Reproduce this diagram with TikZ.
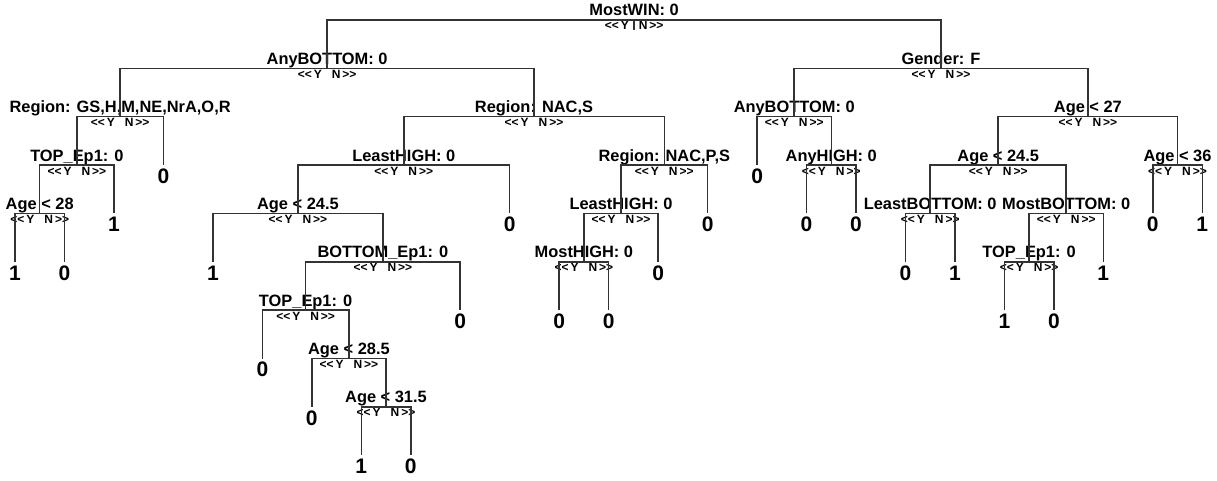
\documentclass[tikz,border=0pt]{standalone}
\usepackage{fontspec}
\setmainfont{Liberation Sans}
\newcommand{\yesno}{<{}<\hspace{1pt}Y\hspace{5pt}N\hspace{1pt}>{}>}

\begin{document}
\begin{tikzpicture}[x=0.5pt, y=-0.5pt,
    split/.style={anchor=base, inner sep=0pt, yshift=2pt, font=\bfseries\fontsize{8.2}{9}\selectfont},
    yn/.style={anchor=base, inner sep=0pt, yshift=-5pt, font=\bfseries\fontsize{6}{7}\selectfont},
    leaf/.style={anchor=base, inner sep=0pt, yshift=-9.15pt, font=\bfseries\fontsize{10.5}{12}\selectfont},
    branch/.style={draw=black!80, line width=0.75pt}]
    \useasboundingbox (0, 0) rectangle (1217, 481);

    % Root
    \path (634.1, 20) coordinate (mostwin) node [split] {MostWIN: 0} node [yn] {\yesno};

    % Level 1
    \path (327.1, 68.4) coordinate (anybottom) node [split] {AnyBOTTOM: 0} node [yn] {\yesno};
    \path (941.0, 68.4) coordinate (gender) node [split] {Gender: F} node [yn] {\yesno};

    % Level 2
    \path (120.1, 116.7) coordinate (regiona) node [split] {Region: GS,H,M,NE,NrA,O,R} node [yn] {\yesno};
    \path (534.0, 116.7) coordinate (regionb) node [split] {Region: NAC,S} node [yn] {\yesno};
    \path (794.2, 116.7) coordinate (anybottomr) node [split] {AnyBOTTOM: 0} node [yn] {\yesno};
    \path (1087.9, 116.7) coordinate (agea) node [split] {Age < 27} node [yn] {\yesno};

    % Level 3
    \path (76.9, 165.1) coordinate (topa) node [split] {TOP\_Ep1: 0} node [yn] {\yesno};
    \path (403.8, 165.1) coordinate (leasthigha) node [split] {LeastHIGH: 0} node [yn] {\yesno};
    \path (664.3, 165.1) coordinate (regionc) node [split] {Region: NAC,P,S} node [yn] {\yesno};
    \path (831.3, 165.1) coordinate (anyhigh) node [split] {AnyHIGH: 0} node [yn] {\yesno};
    \path (998.2, 165.1) coordinate (ageb) node [split] {Age < 24.5} node [yn] {\yesno};
    \path (1177.5, 165.1) coordinate (agec) node [split] {Age < 36} node [yn] {\yesno};

    % Level 4
    \path (39.7, 213.4) coordinate (aged) node [split] {Age < 28} node [yn] {\yesno};
    \path (297.9, 213.4) coordinate (agee) node [split] {Age < 24.5} node [yn] {\yesno};
    \path (621.0, 213.4) coordinate (leasthighb) node [split] {LeastHIGH: 0} node [yn] {\yesno};
    \path (930.2, 213.4) coordinate (leastbottom) node [split] {LeastBOTTOM: 0} node [yn] {\yesno};
    \path (1066.2, 213.4) coordinate (mostbottom) node [split] {MostBOTTOM: 0} node [yn] {\yesno};

    % Level 5 and below
    \path (382.9, 261.8) coordinate (bottomep) node [split] {BOTTOM\_Ep1: 0} node [yn] {\yesno};
    \path (583.9, 261.8) coordinate (mosthigh) node [split] {MostHIGH: 0} node [yn] {\yesno};
    \path (1029.1, 261.8) coordinate (topc) node [split] {TOP\_Ep1: 0} node [yn] {\yesno};
    \path (305.6, 310.1) coordinate (topb) node [split] {TOP\_Ep1: 0} node [yn] {\yesno};
    \path (348.9, 358.5) coordinate (agef) node [split] {Age < 28.5} node [yn] {\yesno};
    \path (386.0, 406.8) coordinate (ageg) node [split] {Age < 31.5} node [yn] {\yesno};

    % Leaves
    \path (15.0, 261.8) coordinate (l1) node [leaf] {1};
    \path (64.5, 261.8) coordinate (l2) node [leaf] {0};
    \path (113.9, 213.4) coordinate (l3) node [leaf] {1};
    \path (163.4, 165.1) coordinate (l4) node [leaf] {0};
    \path (212.9, 261.8) coordinate (l5) node [leaf] {1};
    \path (262.4, 358.5) coordinate (l6) node [leaf] {0};
    \path (311.8, 406.8) coordinate (l7) node [leaf] {0};
    \path (361.3, 455.2) coordinate (l8) node [leaf] {1};
    \path (410.8, 455.2) coordinate (l9) node [leaf] {0};
    \path (460.2, 310.1) coordinate (l10) node [leaf] {0};
    \path (509.7, 213.4) coordinate (l11) node [leaf] {0};
    \path (559.2, 310.1) coordinate (l12) node [leaf] {0};
    \path (608.6, 310.1) coordinate (l13) node [leaf] {0};
    \path (658.1, 261.8) coordinate (l14) node [leaf] {0};
    \path (707.6, 213.4) coordinate (l15) node [leaf] {0};
    \path (757.1, 165.1) coordinate (l16) node [leaf] {0};
    \path (806.5, 213.4) coordinate (l17) node [leaf] {0};
    \path (856.0, 213.4) coordinate (l18) node [leaf] {0};
    \path (905.5, 261.8) coordinate (l19) node [leaf] {0};
    \path (954.9, 261.8) coordinate (l20) node [leaf] {1};
    \path (1004.4, 310.1) coordinate (l21) node [leaf] {1};
    \path (1053.9, 310.1) coordinate (l22) node [leaf] {0};
    \path (1103.3, 261.8) coordinate (l23) node [leaf] {1};
    \path (1152.8, 213.4) coordinate (l24) node [leaf] {0};
    \path (1202.3, 213.4) coordinate (l25) node [leaf] {1};

    % Branches
    \draw [branch] (mostwin) -- ++(0, 10);
    \draw [branch] (anybottom) |- (mostwin) -| (gender);
    \draw [branch] (regiona) |- (anybottom) -| (regionb);
    \draw [branch] (anybottomr) |- (gender) -| (agea);
    \draw [branch] (topa) |- (regiona) -| (l4);
    \draw [branch] (aged) |- (topa) -| (l3);
    \draw [branch] (l1) |- (aged) -| (l2);
    \draw [branch] (leasthigha) |- (regionb) -| (regionc);
    \draw [branch] (agee) |- (leasthigha) -| (l11);
    \draw [branch] (l5) |- (agee) -| (bottomep);
    \draw [branch] (topb) |- (bottomep) -| (l10);
    \draw [branch] (l6) |- (topb) -| (agef);
    \draw [branch] (l7) |- (agef) -| (ageg);
    \draw [branch] (l8) |- (ageg) -| (l9);
    \draw [branch] (leasthighb) |- (regionc) -| (l15);
    \draw [branch] (mosthigh) |- (leasthighb) -| (l14);
    \draw [branch] (l12) |- (mosthigh) -| (l13);
    \draw [branch] (l16) |- (anybottomr) -| (anyhigh);
    \draw [branch] (l17) |- (anyhigh) -| (l18);
    \draw [branch] (ageb) |- (agea) -| (agec);
    \draw [branch] (leastbottom) |- (ageb) -| (mostbottom);
    \draw [branch] (l19) |- (leastbottom) -| (l20);
    \draw [branch] (topc) |- (mostbottom) -| (l23);
    \draw [branch] (l21) |- (topc) -| (l22);
    \draw [branch] (l24) |- (agec) -| (l25);
  \end{tikzpicture}
\end{document}
